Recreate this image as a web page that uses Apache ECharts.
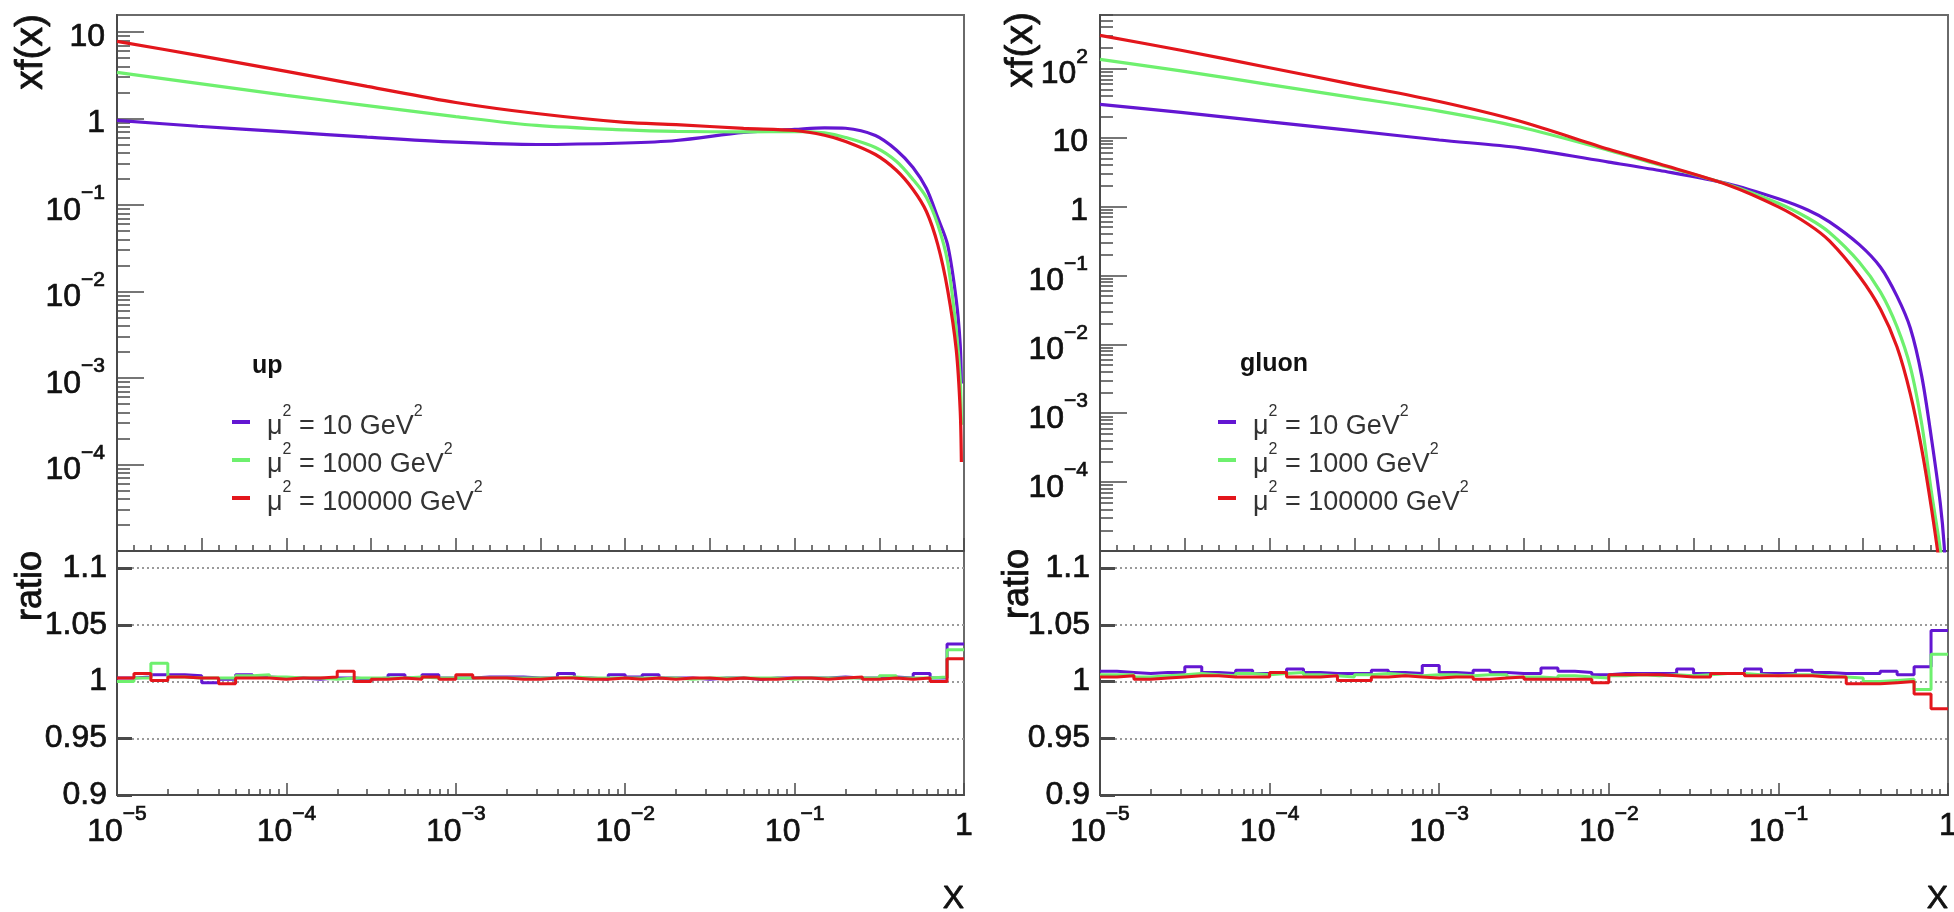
<!DOCTYPE html>
<html>
<head>
<meta charset="utf-8">
<title>xf(x) up / gluon</title>
<script src="https://cdn.jsdelivr.net/npm/echarts@6.0.0/dist/echarts.min.js"></script>
<style>
  html, body { margin: 0; padding: 0; background: #fff; }
  #chart { width: 1954px; height: 912px; }
</style>
</head>
<body>
<div id="chart"></div>
<script>
const xPts = [1e-5, 3e-5, 1e-4, 3e-4, 1e-3, 3e-3, 0.01, 0.02, 0.05, 0.1, 0.15, 0.2, 0.3, 0.4, 0.5, 0.6, 0.7, 0.8, 0.9, 0.95, 0.965];

// up quark xf(x)
const upMu10     = [0.948, 0.813, 0.698, 0.608, 0.533, 0.50, 0.52, 0.556, 0.689, 0.746, 0.78, 0.77, 0.635, 0.43, 0.271, 0.155, 0.0714, 0.0348, 8.0e-3, 2.42e-3, 8.6e-4];
const upMu1000   = [3.41, 2.54, 1.85, 1.41, 1.05, 0.83, 0.736, 0.708, 0.70, 0.71, 0.68, 0.603, 0.461, 0.318, 0.197, 0.122, 0.0593, 0.0221, 3.61e-3, 9.5e-4, 2.87e-4];
const upMu100000 = [7.78, 5.36, 3.50, 2.35, 1.53, 1.14, 0.90, 0.85, 0.766, 0.726, 0.64, 0.542, 0.383, 0.25, 0.151, 0.084, 0.0348, 0.0105, 2.12e-3, 4.17e-4, 1.07e-4];

// gluon xf(x) (last points run out under the frame)
const gMu10     = [30.3, 23.2, 16.9, 12.7, 9.21, 7.08, 4.40, 3.32, 2.15, 1.29, 0.88, 0.598, 0.279, 0.131, 0.0499, 0.0171, 3.45e-3, 4.2e-4, 4.97e-5, 1.18e-5, 4e-6];
const gMu1000   = [136, 92.9, 58.6, 38.5, 24.2, 14.2, 6.5, 4.0, 2.10, 1.11, 0.674, 0.419, 0.155, 0.0571, 0.018, 4.65e-3, 6.95e-4, 6.93e-5, 1.07e-5, 3e-6, 1e-6];
const gMu100000 = [304, 185, 103, 60.1, 33.3, 17.2, 6.75, 4.13, 2.07, 0.986, 0.552, 0.316, 0.0973, 0.0323, 9.19e-3, 1.89e-3, 3.01e-4, 4.06e-5, 5e-6, 1e-6, 1e-6];

// ratio histograms: 10 log bins per decade
const binMant = [1, 1.259, 1.585, 1.995, 2.512, 3.162, 3.981, 5.012, 6.31, 7.943];
const binDecades = [1e-5, 1e-4, 1e-3, 1e-2, 1e-1];

const rUp10 = [1.003, 1.004, 1.006, 1.006, 1.005, 0.999, 1.002, 1.006, 1.004, 1.003,
  1.003, 1.002, 1.003, 1.003, 1.002, 1.003, 1.006, 1.003, 1.006, 1.003,
  1.003, 1.004, 1.004, 1.004, 1.003, 1.003, 1.007, 1.003, 1.002, 1.006,
  1.004, 1.006, 1.003, 1.003, 1.002, 1.003, 1.003, 1.002, 1.003, 1.003,
  1.003, 1.003, 1.004, 1.003, 1.003, 1.004, 1.003, 1.007, 1.003, 1.033];
const rUp1000 = [1.000, 1.003, 1.016, 1.004, 1.003, 1.003, 1.003, 1.005, 1.006, 1.004,
  1.003, 1.003, 1.002, 1.003, 1.003, 1.003, 1.003, 1.004, 1.003, 1.003,
  1.003, 1.003, 1.003, 1.003, 1.003, 1.003, 1.004, 1.003, 1.003, 1.003,
  1.003, 1.003, 1.003, 1.002, 1.003, 1.003, 1.003, 1.003, 1.003, 1.002,
  1.003, 1.003, 1.003, 1.003, 1.003, 1.005, 1.003, 1.003, 1.004, 1.028];
const rUp100000 = [1.003, 1.007, 1.001, 1.004, 1.003, 1.003, 0.998, 1.003, 1.003, 1.002,
  1.003, 1.003, 1.004, 1.009, 1.000, 1.002, 1.003, 1.002, 1.004, 1.002,
  1.006, 1.003, 1.003, 1.002, 1.002, 1.003, 1.003, 1.002, 1.002, 1.003,
  1.002, 1.003, 1.002, 1.003, 1.003, 1.002, 1.003, 1.002, 1.002, 1.003,
  1.003, 1.002, 1.003, 1.004, 1.002, 1.003, 1.002, 1.003, 1.000, 1.020];

const rG10 = [1.009, 1.008, 1.007, 1.008, 1.008, 1.013, 1.008, 1.007, 1.010, 1.007,
  1.008, 1.011, 1.008, 1.007, 1.007, 1.007, 1.010, 1.008, 1.007, 1.014,
  1.008, 1.007, 1.010, 1.008, 1.007, 1.007, 1.012, 1.009, 1.008, 1.006,
  1.007, 1.007, 1.007, 1.007, 1.011, 1.007, 1.007, 1.007, 1.011, 1.007,
  1.007, 1.010, 1.008, 1.007, 1.007, 1.007, 1.009, 1.006, 1.013, 1.045];
const rG1000 = [1.006, 1.006, 1.004, 1.005, 1.006, 1.007, 1.006, 1.005, 1.007, 1.006,
  1.007, 1.008, 1.006, 1.005, 1.004, 1.006, 1.007, 1.006, 1.005, 1.006,
  1.006, 1.005, 1.006, 1.006, 1.004, 1.004, 1.003, 1.005, 1.004, 1.003,
  1.005, 1.006, 1.005, 1.006, 1.005, 1.006, 1.007, 1.007, 1.006, 1.005,
  1.006, 1.006, 1.005, 1.004, 1.003, 1.000, 1.001, 1.002, 0.993, 1.024];
const rG100000 = [1.004, 1.005, 1.002, 1.003, 1.004, 1.005, 1.005, 1.004, 1.004, 1.004,
  1.008, 1.004, 1.004, 1.005, 1.001, 1.001, 1.004, 1.005, 1.004, 1.003,
  1.004, 1.004, 1.002, 1.003, 1.004, 1.002, 1.002, 1.002, 1.002, 0.999,
  1.006, 1.006, 1.006, 1.005, 1.004, 1.004, 1.007, 1.007, 1.005, 1.005,
  1.005, 1.005, 1.004, 1.004, 0.998, 0.998, 0.999, 1.000, 0.989, 0.976];

// tick positions
const xDecades = [1e-5, 1e-4, 1e-3, 1e-2, 1e-1, 1];
const yDecadesUp = [1e-5, 1e-4, 1e-3, 1e-2, 1e-1, 1, 10];
const yDecadesGluon = [1e-5, 1e-4, 1e-3, 1e-2, 1e-1, 1, 10, 100];

const scaleLabels = ['10', '1000', '100000'];
const seriesNames = scaleLabels.map(s => 'μ² = ' + s + ' GeV²');
const colors = ['#6316d2', '#6ef06e', '#e3161c'];

const FONT = 'Liberation Sans, Arial, Helvetica, sans-serif';
const TXT = '#111';
const AX = '#4a4a4a';

// minor ticks 2..9 inside each decade
const logMinors = (decades) => decades.slice(0, -1).flatMap(d => [2, 3, 4, 5, 6, 7, 8, 9].map(k => k * d));
// upper pad x axis: long ticks every half decade, short every tenth of a decade
const xHalf = [];
const xTenth = [];
for (let k = 0; k <= 50; k++) {
  const v = Math.pow(10, -5 + k / 10);
  if (k % 5 === 0) xHalf.push(v); else xTenth.push(v);
}
const binEdges = binDecades.flatMap(d => binMant.map(m => m * d)).concat([1]);

// "10" with a raised exponent
const powLabel = (v) => {
  const e = Math.log10(v);
  const r = Math.round(e);
  if (Math.abs(e - r) > 1e-6) return '';
  if (r === 0) return '{n|1}';
  if (r === 1) return '{n|10}';
  return '{b|10}{s|' + (r < 0 ? '−' + (-r) : r) + '}';
};
const heavy = { textBorderColor: TXT, textBorderWidth: 0.7 };
const richFor = (align) => ({
  b: Object.assign({ fontSize: 32, fontFamily: FONT, color: TXT, lineHeight: 34, verticalAlign: 'bottom', align }, heavy),
  n: Object.assign({ fontSize: 32, fontFamily: FONT, color: TXT, lineHeight: 34, padding: [10, 0, 0, 0], align }, heavy),
  s: Object.assign({ fontSize: 21, fontFamily: FONT, color: TXT, lineHeight: 44, verticalAlign: 'top', align }, heavy)
});
const labelBase = (align) => Object.assign({
  show: true, fontSize: 32, fontFamily: FONT, color: TXT, formatter: powLabel,
  rich: richFor(align), align
}, heavy);

const grids = [
  { left: 117, top: 15, width: 847, height: 536 },
  { left: 117, top: 551, width: 847, height: 244 },
  { left: 1100, top: 15, width: 848, height: 536 },
  { left: 1100, top: 551, width: 848, height: 244 }
].map(g => Object.assign(g, { show: true, borderColor: '#6a6a6a', borderWidth: 2, outerBoundsMode: 'none' }));

const tickStyle = { color: AX, width: 1.5 };

const logX = (gridIndex, ticks, len, labels) => ({
  type: 'log', logBase: 10, gridIndex, min: 1e-5, max: 1, position: 'bottom',
  axisLine: { show: labels !== undefined, onZero: false, lineStyle: { color: AX, width: 2 } },
  axisTick: { show: true, inside: true, length: len, customValues: ticks, lineStyle: tickStyle },
  axisLabel: labels && labels.length ? Object.assign(labelBase('center'), { customValues: labels, margin: 9 }) : { show: false },
  splitLine: { show: false }
});
const logY = (gridIndex, max, ticks, len, labels) => ({
  type: 'log', logBase: 10, gridIndex, min: 1e-5, max, position: 'left',
  axisLine: { show: labels !== undefined, onZero: false, lineStyle: { color: AX, width: 2 } },
  axisTick: { show: true, inside: true, length: len, customValues: ticks, lineStyle: tickStyle },
  axisLabel: labels ? Object.assign(labelBase('right'), { customValues: labels, margin: 12 }) : { show: false },
  splitLine: { show: false }
});
const ratioY = (gridIndex) => ({
  type: 'value', gridIndex, min: 0.9, max: 1.115, interval: 0.05, position: 'left',
  axisLine: { show: true, onZero: false, lineStyle: { color: AX, width: 2 } },
  axisTick: { show: true, inside: true, length: 15, lineStyle: { color: AX, width: 3 } },
  axisLabel: Object.assign({ fontSize: 32, fontFamily: FONT, color: TXT, margin: 10, showMaxLabel: false }, heavy),
  splitLine: { show: true, lineStyle: { color: '#9a9a9a', type: [2, 3], width: 2 } }
});

const xAxis = [
  logX(0, xHalf, 13, []),           // 0 upper left
  logX(0, xTenth, 6),               // 1
  logX(1, xDecades, 12, xDecades),  // 2 lower left
  logX(1, logMinors(xDecades), 6),  // 3
  logX(2, xHalf, 13, []),           // 4 upper right
  logX(2, xTenth, 6),               // 5
  logX(3, xDecades, 12, xDecades),  // 6 lower right
  logX(3, logMinors(xDecades), 6)   // 7
];

const yAxis = [
  logY(0, 15.7, yDecadesUp, 27, yDecadesUp.slice(1)),            // 0
  logY(0, 15.7, logMinors(yDecadesUp.concat([100])), 13),        // 1
  ratioY(1),                                                     // 2
  logY(2, 600, yDecadesGluon, 27, yDecadesGluon.slice(1)),       // 3
  logY(2, 600, logMinors(yDecadesGluon.concat([1000])), 13),     // 4
  ratioY(3)                                                      // 5
];

const curve = (name, vals, color, xi, yi) => ({
  name, type: 'line', xAxisIndex: xi, yAxisIndex: yi,
  data: xPts.map((x, i) => [x, vals[i]]),
  showSymbol: false, smooth: 0.3, clip: true,
  color, lineStyle: { color, width: 3.2 }, z: 3
});
const ratio = (name, vals, color, xi, yi) => ({
  name: 'ratio ' + name, type: 'line', step: 'end', xAxisIndex: xi, yAxisIndex: yi,
  data: binEdges.map((x, i) => [x, vals[Math.min(i, vals.length - 1)]]),
  showSymbol: false, clip: true,
  color, lineStyle: { color, width: 3 }, z: 3
});

const series = [
  curve(seriesNames[0], upMu10, colors[0], 0, 0),
  curve(seriesNames[1], upMu1000, colors[1], 0, 0),
  curve(seriesNames[2], upMu100000, colors[2], 0, 0),
  ratio(seriesNames[0], rUp10, colors[0], 2, 2),
  ratio(seriesNames[1], rUp1000, colors[1], 2, 2),
  ratio(seriesNames[2], rUp100000, colors[2], 2, 2),
  curve(seriesNames[0], gMu10, colors[0], 4, 3),
  curve(seriesNames[1], gMu1000, colors[1], 4, 3),
  curve(seriesNames[2], gMu100000, colors[2], 4, 3),
  ratio(seriesNames[0], rG10, colors[0], 6, 5),
  ratio(seriesNames[1], rG1000, colors[1], 6, 5),
  ratio(seriesNames[2], rG100000, colors[2], 6, 5)
];

const legendBox = (left) => ({
  orient: 'vertical', left, top: 399, itemGap: 2, itemWidth: 18, itemHeight: 4,
  icon: 'rect', selectedMode: false, data: seriesNames,
  formatter: (name) => {
    const s = scaleLabels[seriesNames.indexOf(name)];
    return '{t|μ}{u|2}{t| = ' + s + ' GeV}{u|2}';
  },
  textStyle: {
    padding: [0, 0, 0, 12],
    rich: {
      t: { fontSize: 27, fontFamily: FONT, color: '#333', lineHeight: 31, verticalAlign: 'bottom' },
      u: { fontSize: 16, fontFamily: FONT, color: '#333', lineHeight: 36, verticalAlign: 'top' }
    }
  }
});

const txt = (text, x, y, opts) => ({
  type: 'text', x, y, rotation: opts.rot || 0, z: 10,
  style: {
    text, fill: TXT, font: (opts.weight || 'normal') + ' ' + opts.size + 'px ' + FONT,
    textAlign: opts.align || 'left', textVerticalAlign: 'middle',
    stroke: opts.weight ? null : TXT, lineWidth: opts.weight ? 0 : 0.8
  }
});

const chart = echarts.init(document.getElementById('chart'));
chart.setOption({
  animation: false,
  backgroundColor: '#fff',
  textStyle: { fontFamily: FONT },
  grid: grids,
  xAxis,
  yAxis,
  legend: [legendBox(227), legendBox(1213)],
  series,
  graphic: [
    txt('xf(x)', 31, 14, { size: 39, rot: Math.PI / 2, align: 'right' }),
    txt('xf(x)', 1021, 12, { size: 39, rot: Math.PI / 2, align: 'right' }),
    txt('ratio', 31, 551, { size: 36, rot: Math.PI / 2, align: 'right' }),
    txt('ratio', 1018, 549, { size: 36, rot: Math.PI / 2, align: 'right' }),
    txt('X', 964, 899, { size: 32, align: 'right' }),
    txt('X', 1948, 899, { size: 32, align: 'right' }),
    txt('up', 252, 366, { size: 25, weight: 'bold' }),
    txt('gluon', 1240, 364, { size: 25, weight: 'bold' })
  ]
});
window.addEventListener('resize', () => chart.resize());
</script>
</body>
</html>
